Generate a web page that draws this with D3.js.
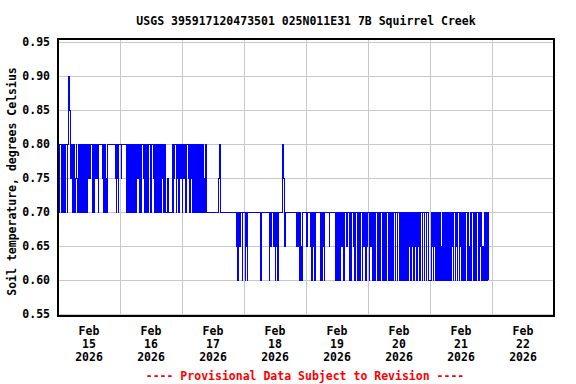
<!DOCTYPE html>
<html>
<head>
<meta charset="utf-8">
<script src="https://cdn.jsdelivr.net/npm/d3@7/dist/d3.min.js"></script>
<style>
  body { margin: 0; background: #fff; }
  text { font-family: "DejaVu Sans Mono", monospace; font-weight: bold; font-size: 11.5px; }
</style>
</head>
<body>
<div class="chart"></div>
<script>
const width = 576;
const height = 384;
const margin = { top: 39, right: 22, bottom: 68, left: 58 };
const innerWidth = width - margin.left - margin.right;
const innerHeight = height - margin.top - margin.bottom;

// 15-minute soil temperature readings, hundredths of a degree C, one array per day
const feb15 = [
  80,70,80,80,80,80,70,80, 80,70,80,70,80,80,70,80, 85,90,85,80,75,80,70,80,
  70,80,70,75,80,75,70,80, 70,80,70,80,70,80,70,80, 70,80,70,80,70,80,75,80,
  80,75,80,80,80,70,80,70, 80,75,80,80,75,80,70,80, 80,80,80,80,80,75,70,80,
  70,80,70,75,70,80,80,80, 80,80,80,80,80,80,80,80, 80,75,70,80,75,70,80,80
];
const feb16 = [
  80,80,75,80,80,80,80,80, 80,80,70,80,70,80,70,80, 70,80,70,80,70,80,70,80,
  70,80,80,75,80,80,70,80, 80,70,80,80,75,80,70,80, 70,80,75,70,80,80,80,70,
  80,80,80,80,75,70,80,70, 80,70,80,70,80,70,80,70, 80,75,80,70,80,70,80,70,
  70,70,75,70,70,70,70,70, 70,80,70,80,75,80,80,70, 80,75,80,70,80,75,80,75
];
const feb17 = [
  70,80,80,75,80,80,70,80, 80,80,75,80,70,80,80,75, 80,70,80,70,80,70,80,70,
  80,70,80,70,80,70,80,80, 70,80,75,70,75,80,70,70, 70,70,70,70,70,70,70,70,
  70,70,70,70,70,70,70,70, 70,75,80,75,70,70,70,70, 70,70,70,70,70,70,70,70,
  70,70,70,70,70,70,70,70, 70,70,70,70,65,70,60,70, 70,65,70,70,70,60,70,70
];
const feb18 = [
  70,70,60,70,65,60,70,70, 70,70,70,70,70,70,70,70, 70,70,70,70,70,70,70,70,
  70,70,60,70,70,70,70,70, 70,70,70,70,70,70,70,60, 70,65,70,70,70,65,70,65,
  60,70,65,70,60,70,70,70, 70,70,70,75,80,75,70,65, 70,70,70,70,70,70,70,70,
  70,70,70,70,70,70,70,70, 70,70,65,70,65,70,60,70, 60,65,60,70,70,70,70,70
];
const feb19 = [
  70,65,70,70,70,70,70,65, 70,60,70,65,70,60,70,70, 70,70,70,70,70,70,70,60,
  70,60,65,70,60,70,70,70, 70,70,70,70,65,70,70,70, 70,70,70,70,70,70,60,70,
  60,70,60,70,60,70,70,65, 70,70,60,70,70,70,70,65, 70,70,70,60,70,60,70,70,
  70,65,70,60,70,70,70,60, 70,60,70,60,70,70,70,60, 70,65,70,70,60,70,65,70
];
const feb20 = [
  70,70,60,70,65,70,70,60, 70,60,70,60,70,70,60,70, 70,60,70,60,70,70,70,60,
  70,60,70,60,70,70,70,60, 70,70,60,70,60,70,60,70, 70,70,60,70,70,60,70,70,
  60,70,70,60,70,70,60,70, 70,60,70,70,60,70,60,70, 65,70,60,70,65,70,70,60,
  70,65,70,60,70,65,70,70, 60,70,70,70,60,70,70,60, 70,70,60,70,70,60,60,60
];
const feb21 = [
  60,60,70,65,70,60,70,65, 70,60,70,70,60,70,70,60, 70,65,60,70,60,70,60,70,
  60,70,60,70,60,70,60,65, 70,60,70,65,60,70,70,60, 70,65,60,70,70,60,70,65,
  60,70,70,60,70,65,60,70, 70,70,60,70,65,60,70,70, 60,70,70,65,60,70,70,60,
  70,70,70,60,70,65,70,60, 60,60,65,60,60,70,60,70, 60,70,60
];
const days = [feb15, feb16, feb17, feb18, feb19, feb20, feb21];

const dayTicks = ["2026-02-15", "2026-02-16", "2026-02-17", "2026-02-18",
                  "2026-02-19", "2026-02-20", "2026-02-21", "2026-02-22"];
const yTicks = [0.55, 0.60, 0.65, 0.70, 0.75, 0.80, 0.85, 0.90, 0.95];

const parseDay = d3.utcParse("%Y-%m-%d");
const start = parseDay(dayTicks[0]);
const end = d3.utcDay.offset(parseDay(dayTicks[dayTicks.length - 1]), 1);

const data = [];
days.forEach((vals, i) => {
  const day = d3.utcDay.offset(start, i);
  vals.forEach((v, j) => {
    data.push({ t: d3.utcMinute.offset(day, j * 15), v: v / 100 });
  });
});

const svg = d3.select(".chart")
  .append("svg")
  .attr("width", width)
  .attr("height", height);

const x = d3.scaleUtc()
  .domain([start, end])
  .range([margin.left, margin.left + innerWidth]);

const y = d3.scaleLinear()
  .domain([0.55, 0.95])
  .range([margin.top + innerHeight - 2, margin.top + 3]);

// grid
const midnights = dayTicks.slice(1).map(parseDay);
svg.append("g")
  .attr("transform", `translate(0, ${margin.top})`)
  .call(d3.axisBottom(x).tickValues(midnights).tickSize(innerHeight).tickFormat(""))
  .call(g => g.select(".domain").remove())
  .call(g => g.selectAll("line").attr("stroke", "#c8c8c8").attr("shape-rendering", "crispEdges"));

svg.append("g")
  .attr("transform", `translate(${margin.left}, 0)`)
  .call(d3.axisLeft(y).tickValues(yTicks).tickSize(-innerWidth).tickFormat(""))
  .call(g => g.select(".domain").remove())
  .call(g => g.selectAll("line").attr("stroke", "#c8c8c8").attr("shape-rendering", "crispEdges"));

// data
const line = d3.line()
  .curve(d3.curveStepAfter)
  .x(d => x(d.t))
  .y(d => y(d.v));

svg.append("path")
  .datum(data)
  .attr("d", line)
  .attr("fill", "none")
  .attr("stroke", "#0000ff")
  .attr("stroke-width", 1)
  .attr("shape-rendering", "crispEdges");

// frame
svg.append("rect")
  .attr("x", margin.left)
  .attr("y", margin.top)
  .attr("width", innerWidth)
  .attr("height", innerHeight)
  .attr("fill", "none")
  .attr("stroke", "#000")
  .attr("stroke-width", 2)
  .attr("shape-rendering", "crispEdges");

// y axis labels
svg.append("g")
  .attr("transform", `translate(${margin.left}, 0)`)
  .call(d3.axisLeft(y).tickValues(yTicks).tickSize(0).tickPadding(8).tickFormat(d3.format(".2f")))
  .call(g => g.select(".domain").remove())
  .call(g => g.selectAll("text")
    .attr("fill", "#000")
    .style("font-family", "DejaVu Sans Mono, monospace")
    .style("font-weight", "bold")
    .style("font-size", "11.5px"));

// x axis labels at noon of each day, three lines each
const noons = dayTicks.map(s => d3.utcHour.offset(parseDay(s), 12));
const fmtLines = [d3.utcFormat("%b"), d3.utcFormat("%-d"), d3.utcFormat("%Y")];
const xLabels = svg.append("g")
  .attr("class", "x-labels")
  .attr("text-anchor", "middle");

fmtLines.forEach((f, k) => {
  xLabels.selectAll(`text.row${k}`)
    .data(noons)
    .enter()
    .append("text")
    .attr("class", `row${k}`)
    .attr("x", d => x(d))
    .attr("y", margin.top + innerHeight + 19 + k * 13)
    .text(d => f(d));
});

svg.append("text")
  .attr("x", 306)
  .attr("y", 24.5)
  .attr("text-anchor", "middle")
  .text("USGS 395917120473501 025N011E31 7B Squirrel Creek");

svg.append("text")
  .attr("transform", `translate(16, ${margin.top + innerHeight / 2 + 4}) rotate(-90)`)
  .attr("text-anchor", "middle")
  .text("Soil temperature, degrees Celsius");

svg.append("text")
  .attr("x", 305)
  .attr("y", 379.5)
  .attr("text-anchor", "middle")
  .attr("fill", "#ff0000")
  .text("---- Provisional Data Subject to Revision ----");
</script>
</body>
</html>
